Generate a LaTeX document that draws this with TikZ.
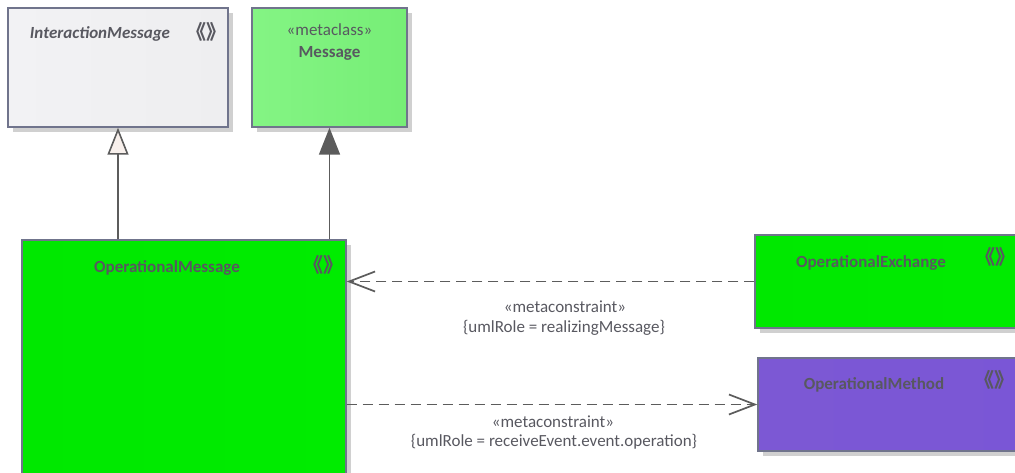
\documentclass[tikz,border=0pt]{standalone}
\usepackage{fontspec}
\setmainfont{Carlito}
\newfontfamily\cjk{Noto Sans CJK SC}
\usetikzlibrary{arrows.meta,shadows}
\definecolor{txt}{RGB}{88,88,96}
\definecolor{bord}{RGB}{112,116,140}
\definecolor{lne}{RGB}{92,92,92}
\definecolor{shd}{RGB}{208,208,208}
\definecolor{imL}{RGB}{242,242,244}
\definecolor{imM}{RGB}{254,254,254}
\definecolor{imR}{RGB}{238,238,240}
\definecolor{msL}{RGB}{132,244,132}
\definecolor{msM}{RGB}{164,252,164}
\definecolor{msR}{RGB}{118,238,118}
\definecolor{omL}{RGB}{0,232,0}
\definecolor{omM}{RGB}{0,255,0}
\definecolor{omR}{RGB}{0,236,0}
\definecolor{mtL}{RGB}{124,88,212}
\definecolor{mtM}{RGB}{148,116,224}
\definecolor{mtR}{RGB}{122,86,214}
\definecolor{triF}{RGB}{248,240,236}
\tikzset{
  box/.style={draw=bord, line width=1.4pt, rectangle, inner sep=0pt,
    drop shadow={shadow xshift=5pt, shadow yshift=-5pt, fill=shd, opacity=1}},
  ttl/.style={text=txt, font=\fontsize{17}{20}\selectfont\bfseries, inner sep=0pt},
  lbl/.style={text=txt, font=\fontsize{17}{20}\selectfont, inner sep=0pt},
  ster/.style={text=txt, font=\cjk\fontsize{20}{22}\selectfont\bfseries, inner sep=0pt},
  conn/.style={draw=lne, line width=1.7pt},
  dep/.style={conn, dash pattern=on 10pt off 6pt, -{Straight Barb[length=26pt,width=20pt,line width=1.7pt]}},
  gen/.style={conn, -{Triangle[length=27pt,width=21pt,fill=triF,line width=1.6pt]}},
  assoc/.style={conn, -{Triangle[length=27pt,width=21pt,fill=lne]}}
}
\begin{document}
\begin{tikzpicture}[x=1pt,y=-1pt]
\useasboundingbox (0,0) rectangle (1015,472);
% boxes
\node[box, minimum width=220pt, minimum height=119pt, left color=imL, middle color=imM, right color=imR] (im) at (118,67.5) {};
\node[box, minimum width=155pt, minimum height=119pt, left color=msL, middle color=msM, right color=msR] (msg) at (329.5,67.5) {};
\node[box, minimum width=324pt, minimum height=260pt, left color=omL, middle color=omM, right color=omR] (om) at (184,370) {};
\node[box, minimum width=300pt, minimum height=93pt, left color=omL, middle color=omM, right color=omR] (ox) at (905,281.5) {};
\node[box, minimum width=300pt, minimum height=93pt, left color=mtL, middle color=mtM, right color=mtR] (mt) at (908,404.5) {};
% titles
\node[ttl, font=\fontsize{17}{20}\selectfont\bfseries\itshape] (imt) at (100,34) {InteractionMessage};
\node[ster] (ims) at (206,32) {《》};
\node[lbl] (mss) at (329.5,30) {«metaclass»};
\node[ttl] (mst) at (329.5,53) {Message};
\node[ttl] (omt) at (167,268) {OperationalMessage};
\node[ster] (oms) at (323,265) {《》};
\node[ttl] (oxt) at (871,263) {OperationalExchange};
\node[ster] (oxs) at (995,257) {《》};
\node[ttl] (mtt) at (874,385) {OperationalMethod};
\node[ster] (mts) at (994,380) {《》};
% connectors
\draw[gen] (om.north -| im.south) -- (im.south);
\draw[assoc] (om.north -| msg.south) -- (msg.south);
\draw[dep] (ox.west) -- (ox.west -| om.east);
\draw[dep] (om.east |- mt.west) -- (mt.west);
% connector labels
\node[lbl] (l1a) at (565,307) {«metaconstraint»};
\node[lbl] (l1b) at (564,328) {\{umlRole = realizingMessage\}};
\node[lbl] (l2a) at (553,422) {«metaconstraint»};
\node[lbl] (l2b) at (554,442) {\{umlRole = receiveEvent.event.operation\}};
\end{tikzpicture}
\end{document}
